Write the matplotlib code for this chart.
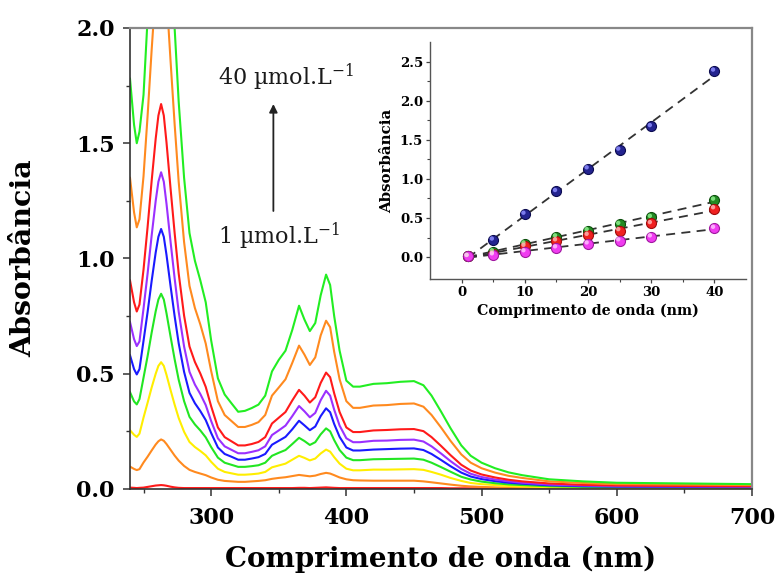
import matplotlib
matplotlib.use("Agg")
import matplotlib.pyplot as plt
import matplotlib.transforms as mtransforms
import numpy as np

plt.rcParams["mathtext.fontset"] = "dejavuserif"

# ---- UV-Vis spectra (wavelength in nm, absorbance) ----
wavelength = [240, 243, 245, 247, 250, 253, 256, 259, 261, 263, 265, 267, 270, 273, 276,
              280, 284, 288, 292, 296, 300, 305, 310, 315, 320, 325, 330, 335, 340, 345,
              350, 355, 360, 365, 369, 373, 377, 381, 385, 388, 391, 395, 400, 405, 410,
              420, 430, 440, 450, 457, 463, 470, 477, 485, 492, 500, 510, 520, 530, 550,
              575, 600, 650, 700]

spec_1 = [0.006, 0.005, 0.004, 0.005, 0.006, 0.009, 0.012, 0.015, 0.016, 0.017, 0.016, 0.014,
          0.010, 0.007, 0.005, 0.004, 0.004, 0.004, 0.004, 0.004, 0.004, 0.004, 0.004, 0.004,
          0.004, 0.004, 0.004, 0.004, 0.004, 0.004, 0.004, 0.004, 0.004, 0.005, 0.005, 0.004,
          0.005, 0.006, 0.007, 0.006, 0.005, 0.004, 0.004, 0.004, 0.004, 0.004, 0.004, 0.004,
          0.004, 0.004, 0.004, 0.004, 0.003, 0.003, 0.003, 0.003, 0.003, 0.003, 0.003, 0.003,
          0.003, 0.003, 0.003, 0.003]
spec_5 = [0.097, 0.087, 0.082, 0.086, 0.115, 0.140, 0.167, 0.193, 0.207, 0.215, 0.209, 0.195,
          0.170, 0.145, 0.123, 0.100, 0.083, 0.074, 0.067, 0.060, 0.050, 0.040, 0.035, 0.033,
          0.031, 0.031, 0.033, 0.035, 0.038, 0.044, 0.048, 0.051, 0.056, 0.061, 0.058, 0.055,
          0.058, 0.065, 0.070, 0.067, 0.060, 0.050, 0.042, 0.038, 0.037, 0.036, 0.036, 0.036,
          0.036, 0.033, 0.029, 0.024, 0.019, 0.014, 0.011, 0.009, 0.007, 0.006, 0.005, 0.004,
          0.003, 0.003, 0.003, 0.003]
spec_10 = [0.255, 0.235, 0.226, 0.240, 0.310, 0.374, 0.440, 0.500, 0.534, 0.550, 0.534, 0.495,
           0.429, 0.366, 0.308, 0.248, 0.204, 0.182, 0.165, 0.146, 0.118, 0.088, 0.074, 0.068,
           0.062, 0.062, 0.064, 0.067, 0.074, 0.094, 0.102, 0.110, 0.127, 0.144, 0.135, 0.124,
           0.132, 0.154, 0.171, 0.162, 0.138, 0.110, 0.088, 0.081, 0.081, 0.084, 0.084, 0.085,
           0.086, 0.083, 0.074, 0.062, 0.048, 0.035, 0.026, 0.021, 0.017, 0.013, 0.011, 0.008,
           0.006, 0.005, 0.005, 0.004]
spec_15 = [0.420, 0.380, 0.367, 0.390, 0.483, 0.576, 0.678, 0.771, 0.822, 0.847, 0.822, 0.762,
           0.661, 0.563, 0.474, 0.381, 0.313, 0.280, 0.254, 0.224, 0.182, 0.136, 0.114, 0.105,
           0.096, 0.096, 0.099, 0.103, 0.114, 0.144, 0.157, 0.169, 0.195, 0.222, 0.208, 0.191,
           0.203, 0.237, 0.263, 0.250, 0.212, 0.169, 0.136, 0.125, 0.125, 0.129, 0.130, 0.131,
           0.132, 0.127, 0.114, 0.095, 0.075, 0.053, 0.041, 0.032, 0.025, 0.020, 0.017, 0.012,
           0.009, 0.008, 0.007, 0.006]
spec_20 = [0.580, 0.520, 0.497, 0.520, 0.643, 0.767, 0.902, 1.026, 1.094, 1.128, 1.094, 1.015,
           0.880, 0.750, 0.632, 0.508, 0.417, 0.372, 0.338, 0.299, 0.243, 0.180, 0.152, 0.140,
           0.127, 0.127, 0.132, 0.138, 0.152, 0.192, 0.209, 0.226, 0.259, 0.296, 0.276, 0.255,
           0.271, 0.316, 0.350, 0.333, 0.282, 0.226, 0.180, 0.167, 0.167, 0.171, 0.173, 0.175,
           0.176, 0.169, 0.152, 0.126, 0.099, 0.071, 0.054, 0.043, 0.034, 0.027, 0.023, 0.016,
           0.012, 0.010, 0.009, 0.008]
spec_25 = [0.724, 0.650, 0.620, 0.640, 0.783, 0.934, 1.099, 1.250, 1.333, 1.374, 1.333, 1.237,
           1.072, 0.914, 0.769, 0.618, 0.508, 0.453, 0.412, 0.364, 0.295, 0.220, 0.185, 0.170,
           0.155, 0.155, 0.161, 0.168, 0.185, 0.234, 0.254, 0.275, 0.316, 0.360, 0.337, 0.311,
           0.330, 0.385, 0.426, 0.405, 0.344, 0.275, 0.220, 0.203, 0.203, 0.209, 0.210, 0.213,
           0.214, 0.206, 0.185, 0.154, 0.121, 0.087, 0.066, 0.052, 0.041, 0.033, 0.027, 0.019,
           0.015, 0.012, 0.011, 0.010]
spec_30 = [0.905, 0.810, 0.770, 0.800, 0.952, 1.136, 1.336, 1.520, 1.620, 1.670, 1.620, 1.503,
           1.303, 1.111, 0.935, 0.752, 0.618, 0.551, 0.501, 0.443, 0.359, 0.267, 0.225, 0.207,
           0.189, 0.189, 0.195, 0.204, 0.225, 0.284, 0.309, 0.334, 0.384, 0.430, 0.405, 0.375,
           0.398, 0.460, 0.505, 0.485, 0.415, 0.334, 0.267, 0.247, 0.247, 0.254, 0.256, 0.259,
           0.260, 0.251, 0.225, 0.187, 0.147, 0.105, 0.080, 0.063, 0.050, 0.040, 0.033, 0.024,
           0.018, 0.015, 0.013, 0.012]
spec_40 = [1.350, 1.200, 1.135, 1.170, 1.357, 1.618, 1.904, 2.166, 2.309, 2.380, 2.309, 2.142,
           1.856, 1.583, 1.333, 1.071, 0.881, 0.785, 0.714, 0.631, 0.512, 0.381, 0.321, 0.295,
           0.269, 0.269, 0.278, 0.290, 0.321, 0.405, 0.440, 0.476, 0.547, 0.622, 0.583, 0.538,
           0.571, 0.666, 0.730, 0.702, 0.595, 0.476, 0.381, 0.352, 0.352, 0.362, 0.364, 0.369,
           0.371, 0.357, 0.321, 0.267, 0.209, 0.150, 0.114, 0.090, 0.071, 0.057, 0.048, 0.033,
           0.026, 0.021, 0.019, 0.017]
spec_50 = [1.780, 1.580, 1.500, 1.550, 1.710, 2.040, 2.400, 2.730, 2.910, 3.000, 2.910, 2.700,
           2.340, 2.000, 1.680, 1.350, 1.110, 0.990, 0.905, 0.810, 0.645, 0.480, 0.410, 0.372,
           0.335, 0.339, 0.351, 0.366, 0.405, 0.510, 0.560, 0.600, 0.690, 0.795, 0.735, 0.685,
           0.720, 0.840, 0.930, 0.885, 0.750, 0.600, 0.470, 0.444, 0.444, 0.456, 0.459, 0.465,
           0.468, 0.450, 0.405, 0.336, 0.264, 0.189, 0.144, 0.114, 0.090, 0.072, 0.060, 0.042,
           0.033, 0.027, 0.024, 0.021]

spectra = [spec_1, spec_5, spec_10, spec_15, spec_20, spec_25, spec_30, spec_40, spec_50]
spec_colors = ["#ff1a1a", "#ff8a1f", "#ffee00", "#22e622", "#1a1aff",
               "#9b30ff", "#ff1a1a", "#ff8a1f", "#22ee22"]

# ---- calibration data for the inset ----
conc = [1, 5, 10, 15, 20, 25, 30, 40]
abs_blue = [0.01, 0.22, 0.55, 0.84, 1.13, 1.37, 1.67, 2.38]
abs_green = [0.01, 0.07, 0.17, 0.26, 0.34, 0.42, 0.51, 0.73]
abs_red = [0.01, 0.04, 0.14, 0.21, 0.28, 0.34, 0.43, 0.62]
abs_magenta = [0.01, 0.03, 0.07, 0.12, 0.17, 0.21, 0.26, 0.37]
cal_series = [abs_blue, abs_green, abs_red, abs_magenta]
cal_face = ["#23238f", "#238a23", "#f02020", "#f03cf0"]
cal_edge = ["#0c0c50", "#0c500c", "#a00c0c", "#a018a0"]
cal_light = ["#8c8cff", "#8cf08c", "#ffb0b0", "#ffc0ff"]

serif = "DejaVu Serif"

fig = plt.figure(figsize=(7.78, 5.78), dpi=100)
ax = fig.add_axes([0.1671, 0.154, 0.7995, 0.7976])

for ys, c in zip(spectra, spec_colors):
    ax.plot(wavelength, ys, color=c, lw=1.5, solid_joinstyle="round")

ax.set_xlim(240, 700)
ax.set_ylim(0.0, 2.0)
ax.set_xticks([300, 400, 500, 600, 700])
ax.set_xticks(np.arange(250, 701, 50), minor=True)
ax.set_yticks([0.0, 0.5, 1.0, 1.5, 2.0])
ax.set_yticks(np.arange(0.0, 2.01, 0.25), minor=True)
ax.set_yticklabels(["0.0", "0.5", "1.0", "1.5", "2.0"])
ax.tick_params(which="major", direction="out", length=5, width=1.1, color="#333333",
               labelsize=16)
ax.tick_params(axis="x", which="major", pad=8)
ax.tick_params(axis="y", which="major", pad=6)
ax.tick_params(which="minor", direction="out", length=3, width=1.0, color="#333333")
for lab in ax.get_xticklabels() + ax.get_yticklabels():
    lab.set_fontfamily(serif)
    lab.set_fontweight("bold")
for side in ["left", "bottom"]:
    ax.spines[side].set_color("#333333")
    ax.spines[side].set_linewidth(1.2)
for side in ["top", "right"]:
    ax.spines[side].set_color("#888888")
    ax.spines[side].set_linewidth(1.6)

ax.set_xlabel("Comprimento de onda (nm)", fontfamily=serif, fontweight="bold",
              fontsize=20, labelpad=12)
ax.set_ylabel("Absorbância", fontfamily=serif, fontweight="bold", fontsize=20.5, labelpad=28)

# concentration annotation
ax.text(0.142, 0.893, "40 µmol.L$^{-1}$", transform=ax.transAxes, fontfamily=serif,
        fontsize=16, ha="left", va="center", color="#1a1a1a")
ax.text(0.142, 0.548, "1 µmol.L$^{-1}$", transform=ax.transAxes, fontfamily=serif,
        fontsize=16, ha="left", va="center", color="#1a1a1a")
ax.annotate("", xy=(0.2305, 0.835), xytext=(0.2305, 0.603), xycoords="axes fraction",
            arrowprops=dict(arrowstyle="-|>", color="#222222", lw=1.3,
                            mutation_scale=12, shrinkA=0, shrinkB=0))

# ---- inset: absorbance versus concentration ----
ins = fig.add_axes([0.5527, 0.5173, 0.4062, 0.41])
xfit = np.array([conc[0], conc[-1]])
shine = mtransforms.offset_copy(ins.transData, fig=fig, x=-1.0, y=1.0, units="points")
for ys, fc, ec, lc in zip(cal_series, cal_face, cal_edge, cal_light):
    k, b = np.polyfit(conc, ys, 1)
    ins.plot(xfit, k * xfit + b, ls=(0, (5, 3.5)), color="#333333", lw=1.3, zorder=2)
    ins.scatter(conc, ys, s=52, facecolor=fc, edgecolor=ec, linewidth=0.8, zorder=3)
    ins.scatter(conc, ys, s=10, facecolor=lc, edgecolor="none", alpha=0.85, zorder=4,
                transform=shine)

ins.set_xlim(-5, 45)
ins.set_ylim(-0.28, 2.75)
ins.set_xticks([0, 10, 20, 30, 40])
ins.set_xticks(np.arange(5, 45, 10), minor=True)
ins.set_yticks([0.0, 0.5, 1.0, 1.5, 2.0, 2.5])
ins.set_yticklabels(["0.0", "0.5", "1.0", "1.5", "2.0", "2.5"])
ins.set_yticks(np.arange(0.25, 2.75, 0.5), minor=True)
ins.tick_params(which="major", direction="out", length=3, width=0.9, color="#444444",
                labelsize=9.5, pad=2)
ins.tick_params(which="minor", direction="out", length=2, width=0.8, color="#444444")
for lab in ins.get_xticklabels() + ins.get_yticklabels():
    lab.set_fontfamily(serif)
    lab.set_fontweight("bold")
for side in ["top", "right"]:
    ins.spines[side].set_visible(False)
for side in ["left", "bottom"]:
    ins.spines[side].set_color("#555555")
    ins.spines[side].set_linewidth(1.0)
ins.patch.set_alpha(0.0)
ins.set_xlabel("Comprimento de onda (nm)", fontfamily=serif, fontweight="bold",
               fontsize=10.3, labelpad=3)
ins.set_ylabel("Absorbância", fontfamily=serif, fontweight="bold", fontsize=10.8, labelpad=4)

fig.savefig("out.png", dpi=100)
